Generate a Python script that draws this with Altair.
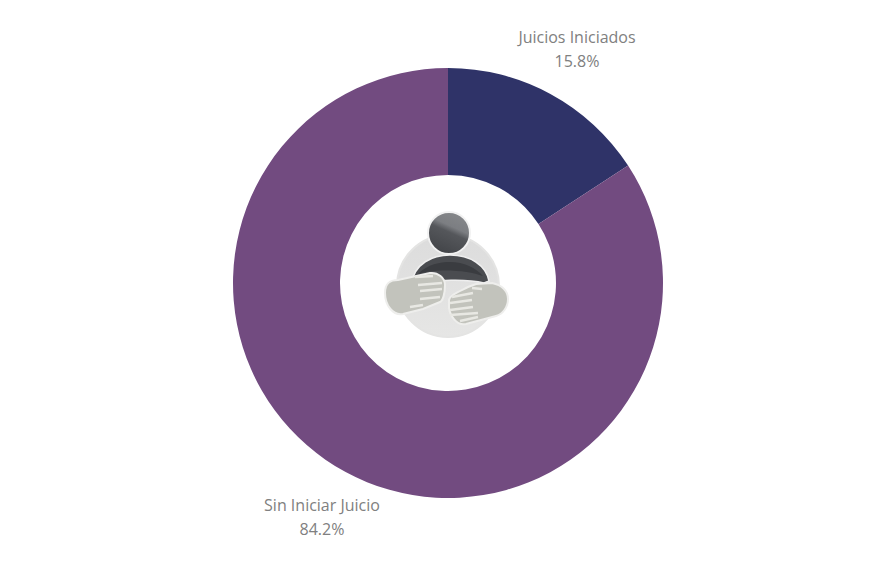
import altair as alt
import pandas as pd

categories = ["Juicios Iniciados", "Sin Iniciar Juicio"]
values = [15.8, 84.2]
value_labels = ["15.8%", "84.2%"]
colors = ["#2f3368", "#724b80"]

W, H = 854, 564
CX, CY = 440, 275  # donut centre inside the view


def circle(cx, cy, r):
    return f"M{cx-r},{cy}A{r},{r} 0 1 1 {cx+r},{cy}A{r},{r} 0 1 1 {cx-r},{cy}Z"


one = pd.DataFrame({"a": [0]})


def glyph(path, **kw):
    # size=4 makes one path unit equal one pixel
    return alt.Chart(one).mark_point(shape=path, size=4, opacity=1, **kw).encode(
        x=alt.value(CX), y=alt.value(CY)
    )


df = pd.DataFrame({"cat": categories, "value": values, "idx": [0, 1]})

donut = alt.Chart(df).mark_arc(innerRadius=108, outerRadius=215).encode(
    theta=alt.Theta("value:Q", stack=True),
    color=alt.Color("cat:N", scale=alt.Scale(domain=categories, range=colors), legend=None),
    order=alt.Order("idx:Q"),
    x=alt.value(CX),
    y=alt.value(CY),
)

head_fill = alt.LinearGradient(
    gradient="linear", x1=0.75, y1=0.05, x2=0.35, y2=0.95,
    stops=[
        alt.GradientStop(color="#85878a", offset=0),
        alt.GradientStop(color="#7c7e82", offset=0.35),
        alt.GradientStop(color="#55575b", offset=0.5),
        alt.GradientStop(color="#44464a", offset=1),
    ],
)
disc_fill = alt.LinearGradient(
    gradient="linear", x1=0.5, y1=0, x2=0.5, y2=1,
    stops=[alt.GradientStop(color="#dcdcdc", offset=0), alt.GradientStop(color="#e6e6e5", offset=1)],
)

icon = [
    glyph(circle(0, 3, 51), filled=True, fill=disc_fill, stroke="#e4e4e3", strokeWidth=2),
    glyph("M-37,2C-34,-20 -15,-28 2,-28C22,-28 38,-18 41,-2L36,0C20,-4 -12,-4 -37,2Z",
          filled=True, fill="#4a4c50", stroke="#efefef", strokeWidth=1.5),
    glyph("M-30,-9C-20,-19 -8,-21 2,-21C16,-21 28,-15 35,-7C20,-13 -12,-15 -30,-9Z",
          filled=True, fill="#3a3c40"),
    glyph(circle(1, -50, 21), filled=True, fill=head_fill, stroke="#f2f2f2", strokeWidth=2),
    glyph("M-63,10C-63,0 -58,-3 -50,-3L-18,-10C-10,-11 -3,-5 -3,2C-3,10 -5,18 -8,19L-25,26L-45,31C-55,33 -63,22 -63,10Z",
          filled=True, fill="#c2c3bc", stroke="#eeeeec", strokeWidth=2),
    glyph("M1,17C2,12 10,9 20,4L28,1L44,0C54,2 60,8 60,16C60,24 55,31 48,33L18,41C8,43 2,32 1,25Z",
          filled=True, fill="#c2c3bc", stroke="#eeeeec", strokeWidth=2),
    glyph("M-33,-6L-15,-7M-30,2L-6,0M-28,8L-6,6M-28,16L-8,14M-38,24L-25,22"
          "M24,5L34,6M4,14L25,10M2,20L24,17M2,27L25,24M2,32L30,30M12,38L30,34",
          filled=False, stroke="#e8e8e3", strokeWidth=2.5),
]

label_pos = [(569, 30, 54), (314, 498, 522)]
labels = []
for cat, val, (x, y1, y2) in zip(categories, value_labels, label_pos):
    for txt, y in ((cat, y1), (val, y2)):
        labels.append(
            alt.Chart(pd.DataFrame({"t": [txt]}))
            .mark_text(font="Open Sans", fontSize=16, color="#808080", align="center", baseline="middle")
            .encode(text="t:N", x=alt.value(x), y=alt.value(y))
        )

chart = alt.layer(donut, *icon, *labels).properties(
    width=W, height=H, padding=0, autosize=alt.AutoSizeParams(type="none"), background="white"
).configure_view(stroke=None)

chart.save("out.html", embed_options={"renderer": "svg", "actions": False})
